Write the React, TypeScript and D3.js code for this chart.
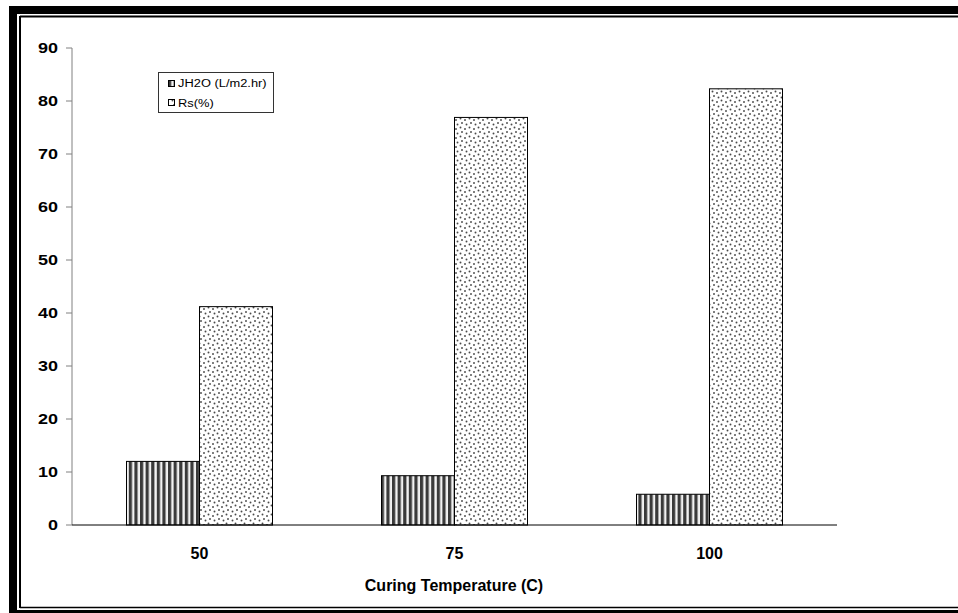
import React from "react";
import * as d3 from "d3";

const categories = ["50", "75", "100"];
const jh2o = [12.0, 9.3, 5.8];
const rs = [41.2, 76.9, 82.3];
const yTicks = [0, 10, 20, 30, 40, 50, 60, 70, 80, 90];
const seriesNames = ["JH2O (L/m2.hr)", "Rs(%)"];

const W = 958;
const H = 613;

export default function App() {
  const x = d3.scaleBand<string>().domain(categories).range([72, 837]).padding(0);
  const y = d3.scaleLinear().domain([0, 90]).range([525, 48]);
  const barW = 73;
  const font = "Arial, 'Liberation Sans', sans-serif";

  const series = [
    { name: seriesNames[0], values: jh2o, fill: "url(#stripes)" },
    { name: seriesNames[1], values: rs, fill: "url(#dots)" },
  ];

  return (
    <svg
      width={W}
      height={H}
      style={{ position: "absolute", left: 0, top: 0, background: "#fff" }}
      fontFamily={font}
    >
      <defs>
        <pattern id="stripes" patternUnits="userSpaceOnUse" width={5.6} height={10}>
          <rect x={0} y={0} width={5.6} height={10} fill="#f2f2f2" />
          <rect x={0} y={0} width={3.2} height={10} fill="#3a3a3a" />
        </pattern>
        <pattern id="dots" patternUnits="userSpaceOnUse" width={9} height={9}>
          <rect x={0} y={0} width={9} height={9} fill="#fff" />
          <circle cx={1.5} cy={1.5} r={0.95} fill="#4a4a4a" />
          <circle cx={6} cy={3} r={0.95} fill="#4a4a4a" />
          <circle cx={3} cy={6} r={0.95} fill="#4a4a4a" />
          <circle cx={7.5} cy={7.5} r={0.95} fill="#4a4a4a" />
        </pattern>
      </defs>

      {/* page frame */}
      <rect x={9} y={6} width={W - 9} height={8} fill="#000" />
      <rect x={9} y={6} width={8} height={H - 6} fill="#000" />
      <rect x={9} y={610} width={W - 9} height={3} fill="#000" />
      <line x1={20} y1={16.5} x2={W} y2={16.5} stroke="#000" strokeWidth={2} />
      <line x1={20} y1={16} x2={20} y2={608} stroke="#000" strokeWidth={2} />
      <line x1={20} y1={607.5} x2={W} y2={607.5} stroke="#000" strokeWidth={1.5} />

      {/* y axis */}
      <line x1={72} y1={48} x2={72} y2={525} stroke="#808080" strokeWidth={1} />
      {yTicks.map((t) => (
        <g key={t}>
          <line x1={66} x2={72} y1={y(t)} y2={y(t)} stroke="#808080" strokeWidth={1} />
          <text
            transform={`translate(58,${y(t)}) scale(1.2,1)`}
            textAnchor="end"
            dominantBaseline="central"
            fontSize={15}
            fontWeight="bold"
            fill="#000"
          >
            {t}
          </text>
        </g>
      ))}

      {/* bars */}
      {categories.map((c, i) => {
        const cx = (x(c) as number) + x.bandwidth() / 2;
        return series.map((s, j) => (
          <rect
            key={c + j}
            x={cx - barW + j * barW}
            y={y(s.values[i])}
            width={barW}
            height={y(0) - y(s.values[i])}
            fill={s.fill}
            stroke="#000"
            strokeWidth={1}
          />
        ));
      })}

      {/* x axis */}
      <line x1={72} y1={525} x2={837} y2={525} stroke="#000" strokeWidth={1} />
      {categories.map((c) => (
        <text
          key={c}
          x={(x(c) as number) + x.bandwidth() / 2}
          y={553}
          textAnchor="middle"
          dominantBaseline="central"
          fontSize={16}
          fontWeight="bold"
        >
          {c}
        </text>
      ))}
      <text x={454} y={585} textAnchor="middle" dominantBaseline="central" fontSize={16} fontWeight="bold">
        Curing Temperature (C)
      </text>

      {/* legend */}
      <rect x={158.5} y={72.5} width={115} height={40} fill="#fff" stroke="#333" strokeWidth={1} />
      {series.map((s, j) => (
        <g key={s.name}>
          <rect x={168.5} y={80.5 + j * 19} width={6} height={6} fill={s.fill} stroke="#000" strokeWidth={1} />
          <text
            transform={`translate(178,${83.5 + j * 20}) scale(1.17,1)`}
            dominantBaseline="central"
            fontSize={11}
          >
            {s.name}
          </text>
        </g>
      ))}
    </svg>
  );
}
